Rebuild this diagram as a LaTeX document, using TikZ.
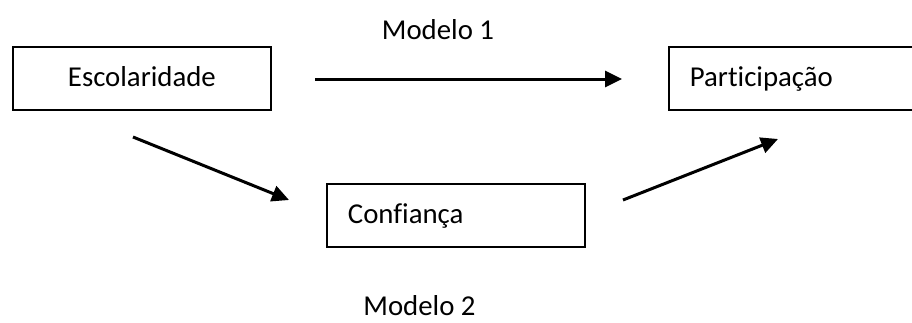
\documentclass[tikz,border=0pt]{standalone}
\usepackage{fontspec}
\setmainfont[Ligatures=NoCommon]{Carlito}
\usetikzlibrary{arrows.meta}
\tikzset{
  box/.style={draw=black, line width=1.8pt, minimum height=63pt, inner xsep=21pt, inner ysep=0pt,
    text height=22pt, text depth=6pt, font=\fontsize{28.8}{34}\selectfont},
  lbl/.style={font=\fontsize{28.8}{34}\selectfont, inner sep=0pt},
  conn/.style={line width=3pt, -{Triangle[length=17pt,width=16pt]}}
}
\begin{document}
\begin{tikzpicture}[x=1pt,y=-1pt]
\useasboundingbox (0,0) rectangle (912,322);
\node[box, minimum width=258pt, anchor=north west] (esc) at (12,46) {Escolaridade};
\node[box, minimum width=252pt, text width=210pt, align=left, anchor=north west] (par) at (668,46) {Participação};
\node[box, minimum width=258pt, text width=216pt, align=left, anchor=north west] (conf) at (326,183) {Confiança};
\node[lbl, anchor=base] (m1) at (438,39) {Modelo 1};
\node[lbl, anchor=base] (m2) at (419.5,315) {Modelo 2};
\coordinate (a1s) at (315,79);
\coordinate (a1e) at (622,79);
\coordinate (a2s) at (133,137);
\coordinate (a2e) at (289,200);
\coordinate (a3s) at (623,200);
\coordinate (a3e) at (778,139);
\draw[conn] (a1s) -- (a1e);
\draw[conn] (a2s) -- (a2e);
\draw[conn] (a3s) -- (a3e);
\end{tikzpicture}
\end{document}
